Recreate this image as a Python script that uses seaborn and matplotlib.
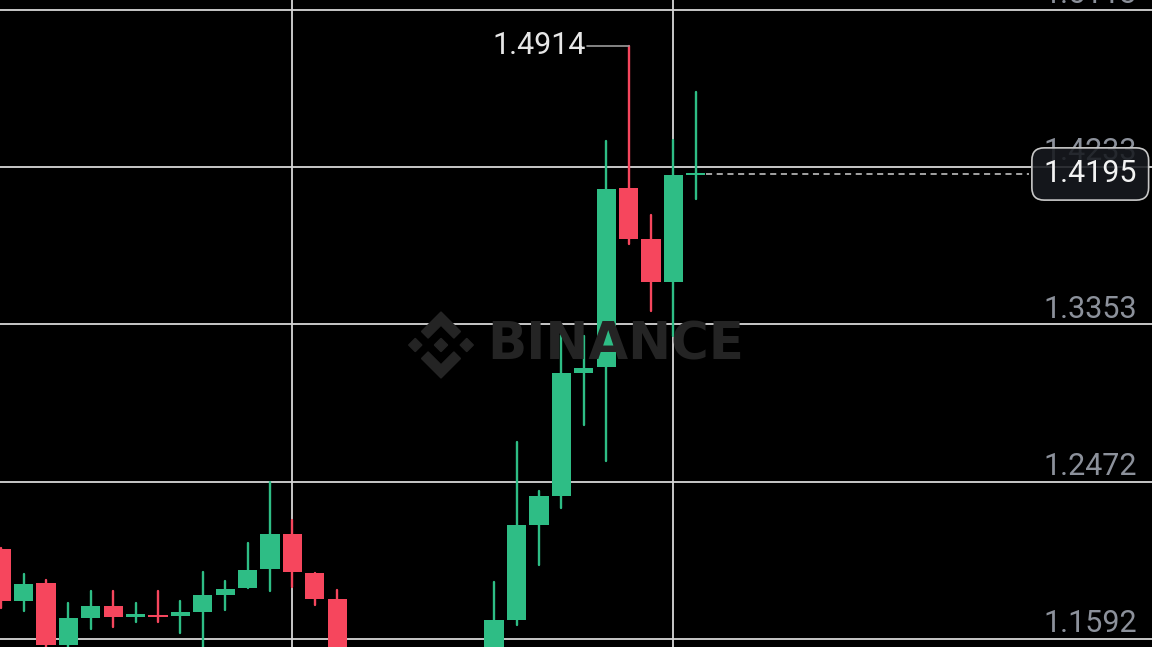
import numpy as np
import pandas as pd
import matplotlib
matplotlib.use("Agg")
import matplotlib.pyplot as plt
import matplotlib.transforms as mtransforms
from matplotlib.patches import Polygon
import seaborn as sns

# candle data (one entry per candle, oldest first)
opens = [1.2096, 1.1806, 1.1905, 1.1558, 1.1711, 1.1778, 1.1715, 1.1726, 1.1721, 1.1745,
         1.1840, 1.1876, 1.1982, 1.2180, 1.1961, 1.1816, 1.1420, 1.1380, 1.1440, 1.1410,
         1.1450, 1.1480, 1.1500, 1.1698, 1.2228, 1.2392, 1.3079, 1.3113, 1.4115, 1.3831,
         1.3592, 1.4189]
highs = [1.2100, 1.1957, 1.1922, 1.1793, 1.1861, 1.1862, 1.1792, 1.1861, 1.1805, 1.1965,
         1.1917, 1.2131, 1.2471, 1.2258, 1.1961, 1.1866, 1.1500, 1.1460, 1.1520, 1.1470,
         1.1520, 1.1530, 1.1909, 1.2693, 1.2420, 1.3294, 1.3288, 1.4381, 1.4914, 1.3965,
         1.4385, 1.4656]
lows = [1.1765, 1.1750, 1.1540, 1.1535, 1.1648, 1.1661, 1.1685, 1.1689, 1.1624, 1.1530,
        1.1754, 1.1876, 1.1861, 1.1881, 1.1782, 1.1380, 1.1350, 1.1300, 1.1390, 1.1330,
        1.1400, 1.1420, 1.1470, 1.1670, 1.2006, 1.2324, 1.2790, 1.2590, 1.3803, 1.3430,
        1.3290, 1.4055]
closes = [1.1805, 1.1901, 1.1558, 1.1711, 1.1778, 1.1715, 1.1730, 1.1713, 1.1743, 1.1838,
          1.1872, 1.1978, 1.2180, 1.1965, 1.1818, 1.1420, 1.1380, 1.1440, 1.1410, 1.1450,
          1.1480, 1.1500, 1.1698, 1.2228, 1.2391, 1.3079, 1.3111, 1.4111, 1.3831, 1.3592,
          1.4189, 1.4195]

price_ticks = [1.1592, 1.2472, 1.3353, 1.4233, 1.5113]
vgrid_idx = [13, 30]
peak_label = "1.4914"
last_label = "1.4195"

GREEN = "#2ebd85"
RED = "#f6465d"

df = pd.DataFrame({"open": opens, "high": highs, "low": lows, "close": closes})
df["idx"] = np.arange(len(df))
df["up"] = df["close"] >= df["open"]

sns.set_theme(style="dark", rc={"axes.facecolor": "black", "figure.facecolor": "black",
                                "axes.grid": False})
plt.rcParams["font.family"] = ["Roboto", "DejaVu Sans"]

fig = plt.figure(figsize=(11.52, 6.47), dpi=100)
ax = fig.add_axes([0, 0, 1, 1])

W, H = 1152, 647
def px(x, y):
    return (x / W, 1 - y / H)

# watermark
wm = "#242424"
cx, cy, s = 441, 345, 33
shapes = [
    [(0, 0.2), (0.2, 0), (0, -0.2), (-0.2, 0)],
    [(-0.78, 0.2), (-0.58, 0), (-0.78, -0.2), (-0.98, 0)],
    [(0.78, 0.2), (0.98, 0), (0.78, -0.2), (0.58, 0)],
    [(0, 1), (0.59, 0.41), (0.39, 0.21), (0, 0.6), (-0.39, 0.21), (-0.59, 0.41)],
    [(0, -1), (0.59, -0.41), (0.39, -0.21), (0, -0.6), (-0.39, -0.21), (-0.59, -0.41)],
]
for shp in shapes:
    pts = [px(cx + a * s, cy - b * s) for a, b in shp]
    fig.patches.append(Polygon(pts, closed=True, color=wm, transform=fig.transFigure, zorder=0))
fig.text(*px(487, 346), "BINANCE", color=wm, fontsize=37, fontweight="bold",
         family=["DejaVu Sans"], ha="left", va="center", zorder=0.5)

# grid
for p in price_ticks:
    ax.axhline(p, color="#d6d6d6", lw=1.3, zorder=1)
for i in vgrid_idx:
    ax.axvline(i, color="#d6d6d6", lw=1.3, zorder=1)

# wicks drawn with seaborn, one line per candle
wick = pd.concat([df[["idx", "up", "low"]].rename(columns={"low": "price"}),
                  df[["idx", "up", "high"]].rename(columns={"high": "price"})])
sns.lineplot(data=wick, x="idx", y="price", units="idx", estimator=None, hue="up",
             palette={True: GREEN, False: RED}, lw=1.7, legend=False, ax=ax, zorder=2)

# bodies
body_lo = df[["open", "close"]].min(axis=1)
body_h = (df["close"] - df["open"]).abs().clip(lower=0.0012)
ax.bar(df["idx"], body_h, bottom=body_lo, width=0.86,
       color=np.where(df["up"], GREEN, RED), edgecolor="none", linewidth=0, zorder=3)
ax.set_xlim(-0.05, 51.36)
ax.set_ylim(1.1547, 1.5169)
ax.axis("off")

# price labels on the right
lab_tr = mtransforms.blended_transform_factory(ax.transAxes, ax.transData)
for p in price_ticks:
    ax.text(1137 / W, p + 0.0038, f"{p:.4f}", transform=lab_tr, ha="right", va="baseline",
            color="#8c919b", fontsize=22, zorder=4, clip_on=False)

# peak annotation
pk = int(df["high"].idxmax())
ax.plot([pk - 1.85, pk], [highs[pk], highs[pk]], color="#9a9a9a", lw=1.2, zorder=4)
ax.text(pk - 1.9, highs[pk], peak_label, ha="right", va="center", color="#e6e6e6",
        fontsize=22, zorder=4)

# last price line + box
last = closes[-1]
ax.hlines(last, len(df) - 1 + 0.45, 45.85, colors="#cfcfcf", lw=1.1,
          linestyles=(0, (4, 3)), zorder=4)
ax.text(1137 / W, last, last_label, transform=lab_tr, ha="right", va="center",
        color="#f2f2f2", fontsize=22, zorder=6,
        bbox=dict(boxstyle="round,pad=0.38,rounding_size=0.4", fc=(0.09, 0.1, 0.12, 0.88),
                  ec="#c8c8c8", lw=1.2))

fig.savefig("out.png", dpi=100, facecolor="black")
